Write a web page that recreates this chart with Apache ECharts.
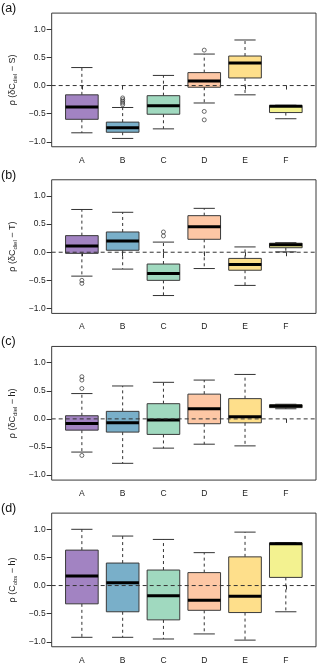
<!DOCTYPE html>
<html>
<head>
<meta charset="utf-8">
<script src="https://cdn.jsdelivr.net/npm/echarts@6/dist/echarts.min.js"></script>
<style>
html,body{margin:0;padding:0;background:#fff;}
#chart{width:320px;height:665px;}
</style>
</head>
<body>
<div id="chart"></div>
<script>
// ---- data ----
const categories = ['A', 'B', 'C', 'D', 'E', 'F'];
const yTicks = [-1, -0.5, 0, 0.5, 1];
const panelLabels = ['(a)', '(b)', '(c)', '(d)'];
const yNames = [
  '{m|ρ (δC}{s|diel}{m| − S)}',
  '{m|ρ (δC}{s|diel}{m| − T)}',
  '{m|ρ (δC}{s|diel}{m| − h)}',
  '{m|ρ (C}{s|obs}{m| − h)}'
];
const boxColors = ['#A283C2', '#79AFC9', '#A0D9BF', '#FDC7A5', '#FEDF8B', '#F3F290'];

// rows: [lower whisker, Q1, median, Q3, upper whisker] for A..F
const statsA = [
  [-0.84, -0.60, -0.38, -0.165, 0.32],
  [-0.94, -0.83, -0.75, -0.65, -0.39],
  [-0.77, -0.51, -0.36, -0.18, 0.18],
  [-0.31, -0.03, 0.08, 0.23, 0.56],
  [-0.165, 0.135, 0.40, 0.525, 0.81],
  [-0.59, -0.48, -0.37, -0.354, -0.35]
];
const outliersA = [[2, -0.22], [2, -0.25], [2, -0.28], [2, -0.31], [2, -0.34], [4, 0.63], [4, -0.46], [4, -0.61]];

const statsB = [
  [-0.425, -0.02, 0.11, 0.295, 0.76],
  [-0.30, 0.035, 0.20, 0.36, 0.71],
  [-0.77, -0.50, -0.38, -0.21, 0.18],
  [-0.29, 0.23, 0.455, 0.65, 0.78],
  [-0.59, -0.32, -0.22, -0.11, 0.094],
  [0.006, 0.08, 0.135, 0.16, 0.17]
];
const outliersB = [[1, -0.50], [1, -0.555], [3, 0.36], [3, 0.29]];

const statsC = [
  [-0.59, -0.20, -0.08, 0.056, 0.45],
  [-0.79, -0.235, -0.07, 0.134, 0.585],
  [-0.52, -0.276, -0.02, 0.27, 0.65],
  [-0.45, -0.086, 0.18, 0.44, 0.69],
  [-0.48, -0.07, 0.04, 0.36, 0.79],
  [0.18, 0.20, 0.23, 0.25, 0.26]
];
const outliersC = [[1, 0.75], [1, 0.69], [1, 0.54], [1, -0.65]];

const statsD = [
  [-0.92, -0.325, 0.17, 0.63, 1.0],
  [-0.92, -0.466, 0.05, 0.40, 0.88],
  [-0.95, -0.61, -0.18, 0.276, 0.82],
  [-0.86, -0.44, -0.26, 0.23, 0.585],
  [-0.97, -0.48, -0.19, 0.51, 0.95],
  [-0.466, 0.145, 0.745, 0.757, 0.76]
];
const outliersD = [];

const panelStats = [statsA, statsB, statsC, statsD];
const panelOutliers = [outliersA, outliersB, outliersC, outliersD];

// ---- layout ----
const FONT = "'Liberation Sans', Arial, Helvetica, sans-serif";
const PITCH = 166.67;
const X_MIN = 0.26, X_MAX = 6.74, Y_MIN = -1.088, Y_MAX = 1.288;
const lineCol = '#333';

const chart = echarts.init(document.getElementById('chart'), null, {renderer: 'canvas'});

const grids = [], xAxes = [], yAxes = [], series = [], titles = [];
for (let p = 0; p < 4; p++) {
  const top = 13.1 + p * PITCH;
  grids.push({left: 49, width: 267, top: top, height: 133.65, show: true,
    borderColor: '#3a3a3a', borderWidth: 1, backgroundColor: 'transparent'});
  titles.push({text: panelLabels[p], left: 1, top: 2 + p * PITCH, padding: 0,
    textStyle: {fontFamily: FONT, fontSize: 12.5, fontWeight: 'normal', color: '#111'}});
  xAxes.push({
    type: 'value', gridIndex: p, min: X_MIN, max: X_MAX,
    axisLine: {show: false}, splitLine: {show: false},
    axisTick: {show: true, length: 4, customValues: [1, 2, 3, 4, 5, 6], lineStyle: {color: lineCol}},
    axisLabel: {customValues: [1, 2, 3, 4, 5, 6], margin: 9, fontFamily: FONT, fontSize: 8.5, color: '#222',
      formatter: v => categories[Math.round(v) - 1]}
  });
  yAxes.push({
    type: 'value', gridIndex: p, min: Y_MIN, max: Y_MAX,
    axisLine: {show: false}, splitLine: {show: false},
    axisTick: {show: true, length: 5, customValues: yTicks, lineStyle: {color: lineCol}},
    axisLabel: {customValues: yTicks, margin: 6, fontFamily: FONT, fontSize: 8.5, color: '#222',
      formatter: v => (v < 0 ? '−' : '') + Math.abs(v).toFixed(1)},
    name: yNames[p], nameLocation: 'middle', nameRotate: 90, nameGap: 24,
    nameTextStyle: {
      fontFamily: FONT, color: '#222', lineHeight: 10,
      rich: {
        m: {fontFamily: FONT, fontSize: 9, color: '#222', lineHeight: 10, verticalAlign: 'top'},
        s: {fontFamily: FONT, fontSize: 6, color: '#222', lineHeight: 6, verticalAlign: 'bottom'}
      }
    }
  });

  const stats = panelStats[p];
  series.push({
    type: 'custom', xAxisIndex: p, yAxisIndex: p, z: 2,
    data: stats.map((s, i) => [i + 1].concat(s)),
    encode: {x: 0, y: [1, 2, 3, 4, 5]},
    renderItem: function (params, api) {
      const x = api.value(0);
      const lo = api.coord([x, api.value(1)]);
      const q1 = api.coord([x, api.value(2)]);
      const md = api.coord([x, api.value(3)]);
      const q3 = api.coord([x, api.value(4)]);
      const hi = api.coord([x, api.value(5)]);
      const hb = api.size([0.4, 0])[0];
      const hc = api.size([0.26, 0])[0];
      const cx = lo[0];
      const dash = {stroke: lineCol, lineWidth: 1, lineDash: [3, 3]};
      const solid = {stroke: lineCol, lineWidth: 1};
      return {
        type: 'group',
        children: [
          {type: 'line', shape: {x1: cx, y1: q3[1], x2: cx, y2: hi[1]}, style: dash},
          {type: 'line', shape: {x1: cx, y1: q1[1], x2: cx, y2: lo[1]}, style: dash},
          {type: 'line', shape: {x1: cx - hc, y1: hi[1], x2: cx + hc, y2: hi[1]}, style: solid},
          {type: 'line', shape: {x1: cx - hc, y1: lo[1], x2: cx + hc, y2: lo[1]}, style: solid},
          {type: 'rect', shape: {x: cx - hb, y: q3[1], width: 2 * hb, height: q1[1] - q3[1]},
            style: {fill: boxColors[params.dataIndex], stroke: '#3a3a3a', lineWidth: 1}},
          {type: 'line', shape: {x1: cx - hb, y1: md[1], x2: cx + hb, y2: md[1]},
            style: {stroke: '#000', lineWidth: 3}}
        ]
      };
    }
  });
  series.push({
    type: 'line', xAxisIndex: p, yAxisIndex: p, z: 3, symbol: 'none', silent: true,
    data: [[X_MIN, 0], [X_MAX, 0]],
    lineStyle: {color: lineCol, width: 1, type: [4, 3]}
  });
  series.push({
    type: 'scatter', xAxisIndex: p, yAxisIndex: p, z: 4, symbol: 'circle', symbolSize: 4,
    data: panelOutliers[p].map(o => [o[0], o[1]]),
    itemStyle: {color: 'rgba(0,0,0,0)', borderColor: lineCol, borderWidth: 0.9}
  });
}

chart.setOption({
  animation: false,
  backgroundColor: '#fff',
  title: titles,
  grid: grids,
  xAxis: xAxes,
  yAxis: yAxes,
  series: series
});
</script>
</body>
</html>
